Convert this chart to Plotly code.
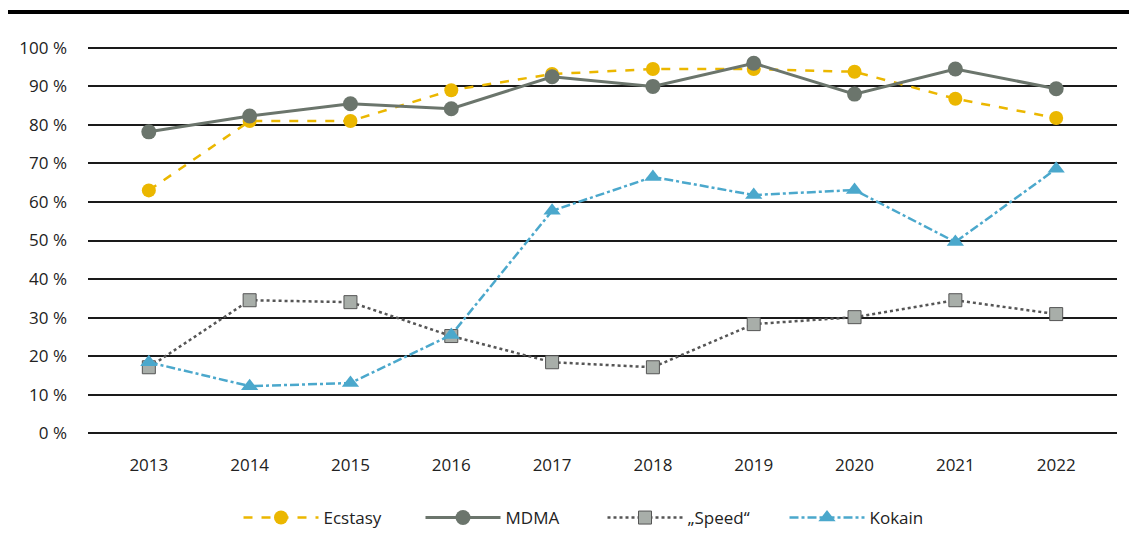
import plotly.graph_objects as go

years = ["2013", "2014", "2015", "2016", "2017", "2018", "2019", "2020", "2021", "2022"]
ecstasy = [63, 81, 81, 89, 93.2, 94.5, 94.5, 93.8, 86.8, 81.8]
mdma = [78.2, 82.3, 85.5, 84.2, 92.5, 90, 96, 88, 94.5, 89.4]
speed = [17.1, 34.5, 34, 25.2, 18.4, 17.1, 28.3, 30.1, 34.5, 30.9]
kokain = [18.4, 12.2, 13, 25.5, 57.7, 66.5, 61.8, 63.1, 49.6, 68.6]
y_ticks = [0, 10, 20, 30, 40, 50, 60, 70, 80, 90, 100]
y_tick_labels = [f"{v} %" for v in y_ticks]

FONT = "Open Sans"

fig = go.Figure()
fig.add_trace(go.Scatter(
    x=years, y=ecstasy, name="Ecstasy", mode="lines+markers",
    line=dict(color="#EBB700", width=2.5, dash="dash"),
    marker=dict(symbol="circle", size=14, color="#EBB700"),
))
fig.add_trace(go.Scatter(
    x=years, y=mdma, name="MDMA", mode="lines+markers",
    line=dict(color="#6B756C", width=3),
    marker=dict(symbol="circle", size=15, color="#6B756C"),
))
fig.add_trace(go.Scatter(
    x=years, y=speed, name="„Speed“", mode="lines+markers",
    line=dict(color="#555555", width=2.5, dash="dot"),
    marker=dict(symbol="square", size=13, color="#A8AEA9",
                line=dict(color="#555555", width=1)),
))
fig.add_trace(go.Scatter(
    x=years, y=kokain, name="Kokain", mode="lines+markers",
    line=dict(color="#4BA8CC", width=2.5, dash="dashdot"),
    marker=dict(symbol="triangle-up", size=15, color="#4BA8CC"),
))

PW = 1029  # plot width in px
PH = 393   # plot height in px (range -1..101)

fig.update_layout(
    width=1129, height=550,
    margin=dict(l=80, r=20, t=36, b=121),
    paper_bgcolor="white", plot_bgcolor="white",
    font=dict(family=FONT, size=17, color="#222222"),
    showlegend=True,
    legend=dict(orientation="h", x=0.5, xanchor="center", y=-81 / PH, yanchor="middle",
                font=dict(family=FONT, size=17, color="#222222"),
                traceorder="normal", itemwidth=75, entrywidth=92, entrywidthmode="pixels"),
    xaxis=dict(type="category", showgrid=False, zeroline=False, showline=False,
               ticks="", ticklabelstandoff=16,
               tickfont=dict(family=FONT, size=17)),
    yaxis=dict(range=[-1, 101], tickvals=y_ticks, ticktext=y_tick_labels,
               showgrid=True, gridcolor="#1a1a1a", gridwidth=1.5,
               zeroline=True, zerolinecolor="#1a1a1a", zerolinewidth=1.5,
               showline=False, ticks="", ticklabelstandoff=20,
               tickfont=dict(family=FONT, size=17)),
    shapes=[dict(type="line", xref="paper", yref="paper",
                 x0=-80 / PW, x1=1 + 20 / PW, y0=1.0 + 32 / PH, y1=1.0 + 32 / PH,
                 line=dict(color="black", width=4))],
)

fig.write_html("out.html")
